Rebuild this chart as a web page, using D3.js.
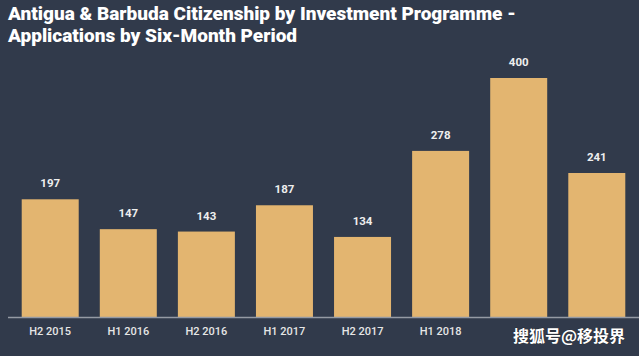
<!DOCTYPE html>
<html><head><meta charset="utf-8">
<script src="https://cdn.jsdelivr.net/npm/d3@7"></script>
<style>
html,body{margin:0;padding:0;background:#313a4b;}
svg{display:block;}
</style></head>
<body>
<script>
const categories = ["H2 2015","H1 2016","H2 2016","H1 2017","H2 2017","H1 2018","H2 2018","H1 2019"];
const xLabels = ["H2 2015","H1 2016","H2 2016","H1 2017","H2 2017","H1 2018","",""];
const values = [197,147,143,187,134,278,400,241];
const titleLines = ["Antigua & Barbuda Citizenship by Investment Programme -","Applications by Six-Month Period"];
const watermark = "搜狐号@移投界";

const W = 639, H = 356;
const svg = d3.select("body").append("svg").attr("width",W).attr("height",H);
svg.append("rect").attr("width",W).attr("height",H).attr("fill","#313a4b");

const x = d3.scaleBand().domain(d3.range(values.length)).range([10,637]).paddingInner(0.27).paddingOuter(0.15);
const y = d3.scaleLinear().domain([0,400]).range([317,78]);

svg.append("g").selectAll("text").data(titleLines).join("text")
  .attr("x",8).attr("y",(d,i)=>20+i*22)
  .attr("fill","#ffffff").attr("font-family","Roboto, sans-serif").attr("font-weight","900")
  .attr("font-size",19).text(d=>d);

svg.append("g").selectAll("rect").data(values).join("rect")
  .attr("x",(d,i)=>x(i)).attr("width",x.bandwidth())
  .attr("y",d=>y(d)).attr("height",d=>y(0)-y(d))
  .attr("fill","#e3b570");

svg.append("g").selectAll("text").data(values).join("text")
  .attr("x",(d,i)=>x(i)+x.bandwidth()/2).attr("y",d=>y(d)-12)
  .attr("text-anchor","middle").attr("fill","#eeeeee")
  .attr("font-family","Roboto, sans-serif").attr("font-weight","bold").attr("font-size",11.5)
  .text(d=>d);

svg.append("line").attr("x1",8).attr("x2",W).attr("y1",y(0)+0.5).attr("y2",y(0)+0.5)
  .attr("stroke","#959aa4").attr("stroke-width",1.5);

svg.append("g").selectAll("text").data(xLabels).join("text")
  .attr("x",(d,i)=>x(i)+x.bandwidth()/2).attr("y",335)
  .attr("text-anchor","middle").attr("fill","#e6e6e6")
  .attr("font-family","Roboto, sans-serif").attr("font-weight","500").attr("font-size",11)
  .text(d=>d);

svg.append("text").attr("x",513).attr("y",342)
  .attr("fill","#ffffff").attr("font-family","'Noto Sans CJK SC', sans-serif").attr("font-weight","bold")
  .attr("font-size",16).attr("stroke","#222222").attr("stroke-width",0.6).attr("paint-order","stroke")
  .text(watermark);
</script>
</body></html>
